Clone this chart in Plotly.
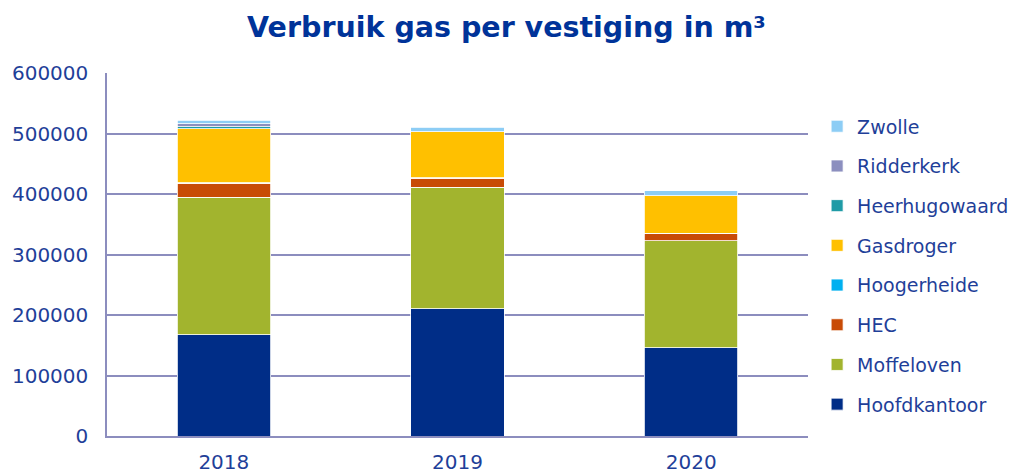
import plotly.graph_objects as go

years = ["2018", "2019", "2020"]
series_names = ["Hoofdkantoor", "Moffeloven", "HEC", "Hoogerheide", "Gasdroger",
                "Heerhugowaard", "Ridderkerk", "Zwolle"]
hoofdkantoor = [167000, 210000, 145500]
moffeloven = [228000, 201000, 177000]
hec = [23000, 15000, 12000]
hoogerheide = [500, 1000, 1000]
gasdroger = [89000, 76000, 62000]
heerhugowaard = [3500, 0, 0]
ridderkerk = [5000, 0, 0]
zwolle = [5500, 7000, 8000]
colors = ["#002D87", "#A2B42E", "#C84B06", "#00B0F0", "#FFC000",
          "#1F9BA6", "#8C8FBF", "#8DCDF5"]
values = [hoofdkantoor, moffeloven, hec, hoogerheide, gasdroger,
          heerhugowaard, ridderkerk, zwolle]

txt = "#1F3F99"
fig = go.Figure()
for i, (name, vals, col) in enumerate(zip(series_names, values, colors)):
    fig.add_trace(go.Bar(
        x=years, y=vals, name=name, legendgroup=name, legendrank=100 - i,
        marker=dict(color=col, line=dict(color="white", width=0.8)),
    ))

fig.update_layout(
    barmode="stack",
    bargap=0.6,
    width=1020, height=473,
    margin=dict(l=99, r=220, t=65, b=45, autoexpand=False),
    paper_bgcolor="white", plot_bgcolor="white",
    font=dict(family="DejaVu Sans, Verdana, sans-serif", size=20, color=txt),
    title=dict(text="<b>Verbruik gas per vestiging in m³</b>", x=0.4887, xanchor="center",
               y=0.96, yanchor="middle",
               font=dict(size=28.5, color="#003399", weight="bold")),
    legend=dict(traceorder="grouped", tracegroupgap=12, x=1.013, xanchor="left",
                y=0.47, yanchor="middle", font=dict(size=19, color=txt),
                bgcolor="rgba(0,0,0,0)"),
    xaxis=dict(showline=True, linecolor="#8C8DBE", linewidth=2, ticks="",
               automargin=False, ticklabelstandoff=7, tickfont=dict(size=20, color=txt)),
    yaxis=dict(range=[0, 600000], dtick=100000, tickformat="d", showgrid=True,
               gridcolor="#8C8DBE", gridwidth=1.5, showline=True, linecolor="#8C8DBE",
               linewidth=2, ticks="", zeroline=False, ticksuffix="  ",
               automargin=False, tickfont=dict(size=20, color=txt)),
)
fig.write_html("out.html")
